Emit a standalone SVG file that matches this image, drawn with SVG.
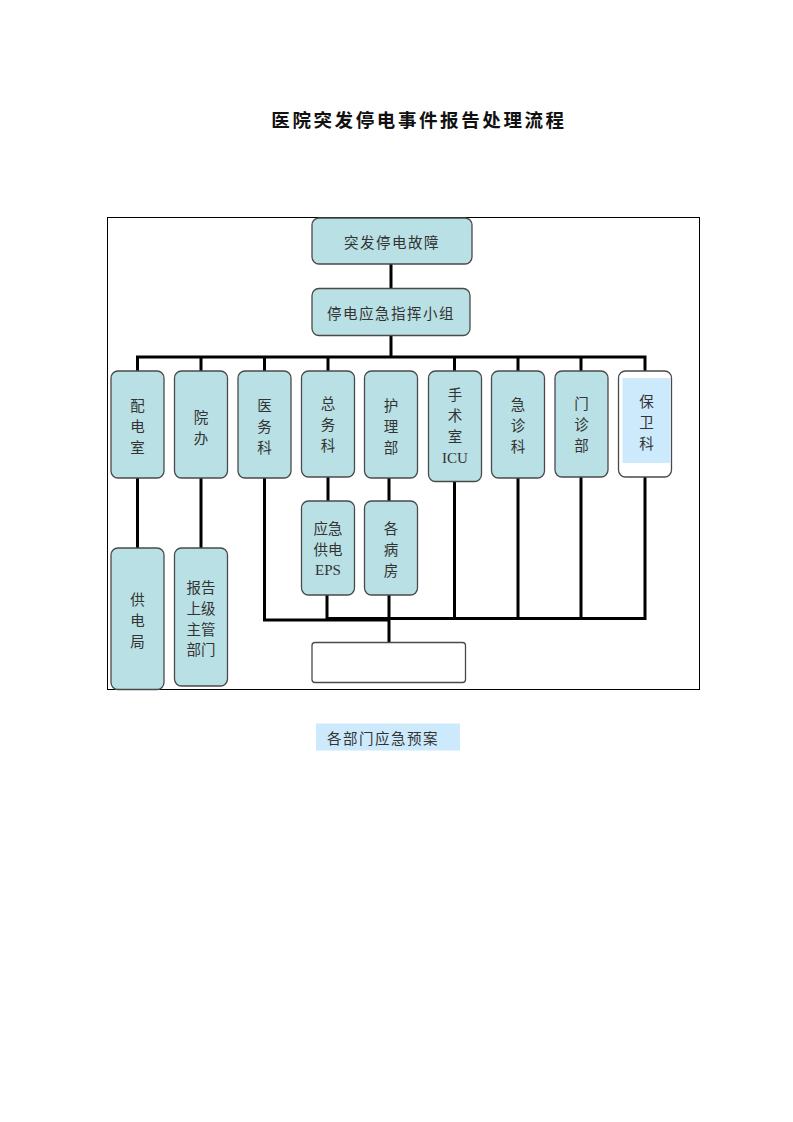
<svg xmlns="http://www.w3.org/2000/svg" width="793" height="1122" viewBox="0 0 793 1122">
<style>
.box{fill:#b9e0e4;stroke:#4a4a4a;stroke-width:1.3}
.wbox{fill:#ffffff;stroke:#4a4a4a;stroke-width:1.3}
.t{font-family:"Noto Sans CJK SC","Liberation Serif",sans-serif;font-size:14.5px;fill:#333;text-anchor:middle;dominant-baseline:central}
.e{font-family:"Liberation Serif",serif;font-size:15px;fill:#333;text-anchor:middle;dominant-baseline:central}
.c{fill:none;stroke:#000;stroke-width:3}
</style>
<rect width="793" height="1122" fill="#ffffff"/>
<text x="419" y="119" font-family="'Noto Sans CJK SC',sans-serif" font-size="18.5" font-weight="bold" letter-spacing="2.6" text-anchor="middle" dominant-baseline="central" fill="#111">医院突发停电事件报告处理流程</text>
<rect x="107.5" y="217.5" width="592" height="472" fill="none" stroke="#000" stroke-width="1"/>
<g id="connectors">
<path class="c" d="M391 264V288"/>
<path class="c" d="M391 335V357"/>
<path class="c" d="M137.5 371V357H645V371"/>
<path class="c" d="M201 357V371M264.5 357V371M328 357V371M454.5 357V371M518 357V371M581 357V371"/>
<path class="c" d="M137.5 478V548"/>
<path class="c" d="M201 478V548"/>
<path class="c" d="M328 477V501"/>
<path class="c" d="M389 478V501"/>
<path class="c" d="M264.5 478V620H389"/>
<path class="c" d="M327 595V618.5H645V477"/>
<path class="c" d="M454.5 481V618.5M518 478V618.5M581 477V618.5"/>
<path class="c" d="M389 595V642"/>
</g>
<g id="n1"><rect class="box" x="312" y="218" width="160" height="46" rx="7"/><text class="t" x="392" y="241.5" letter-spacing="1.5">突发停电故障</text></g>
<g id="n2"><rect class="box" x="312" y="288.5" width="158" height="47" rx="7"/><text class="t" x="391" y="312.5" letter-spacing="1.5">停电应急指挥小组</text></g>
<g id="n3"><rect class="box" x="111" y="371" width="53" height="107" rx="7"/><text class="t" x="137.5" y="404">配</text><text class="t" x="137.5" y="425">电</text><text class="t" x="137.5" y="446">室</text></g>
<g id="n4"><rect class="box" x="174.5" y="371" width="53" height="107" rx="7"/><text class="t" x="201" y="416">院</text><text class="t" x="201" y="437">办</text></g>
<g id="n5"><rect class="box" x="238" y="371" width="53" height="107" rx="7"/><text class="t" x="264.5" y="404">医</text><text class="t" x="264.5" y="425">务</text><text class="t" x="264.5" y="446">科</text></g>
<g id="n6"><rect class="box" x="301.5" y="371" width="53" height="106" rx="7"/><text class="t" x="328" y="402.5">总</text><text class="t" x="328" y="423.5">务</text><text class="t" x="328" y="444.5">科</text></g>
<g id="n7"><rect class="box" x="364.5" y="371" width="53" height="107" rx="7"/><text class="t" x="391" y="404">护</text><text class="t" x="391" y="425">理</text><text class="t" x="391" y="446">部</text></g>
<g id="n8"><rect class="box" x="428.5" y="371" width="53" height="110.5" rx="7"/><text class="t" x="455" y="393">手</text><text class="t" x="455" y="414">术</text><text class="t" x="455" y="435">室</text><text class="e" x="455" y="458">ICU</text></g>
<g id="n9"><rect class="box" x="491.5" y="371" width="53" height="107" rx="7"/><text class="t" x="518" y="403.5">急</text><text class="t" x="518" y="424.5">诊</text><text class="t" x="518" y="445.5">科</text></g>
<g id="n10"><rect class="box" x="555" y="371" width="53" height="106" rx="7"/><text class="t" x="581.5" y="402">门</text><text class="t" x="581.5" y="423">诊</text><text class="t" x="581.5" y="444">部</text></g>
<g id="n11"><rect class="wbox" x="618.5" y="371" width="53" height="106" rx="7"/><rect x="622.5" y="378" width="48" height="85" fill="#cdeafd"/><text class="t" x="646.5" y="400">保</text><text class="t" x="646.5" y="421">卫</text><text class="t" x="646.5" y="442">科</text></g>
<g id="n12"><rect class="box" x="111" y="548" width="53" height="141.5" rx="7"/><text class="t" x="137.5" y="598">供</text><text class="t" x="137.5" y="619">电</text><text class="t" x="137.5" y="640">局</text></g>
<g id="n13"><rect class="box" x="174.5" y="548" width="53" height="138" rx="7"/><text class="t" x="201" y="586">报告</text><text class="t" x="201" y="607">上级</text><text class="t" x="201" y="628">主管</text><text class="t" x="201" y="648">部门</text></g>
<g id="n14"><rect class="box" x="301.5" y="501" width="53" height="94" rx="7"/><text class="t" x="328" y="527.5">应急</text><text class="t" x="328" y="548.5">供电</text><text class="e" x="328" y="569.5">EPS</text></g>
<g id="n15"><rect class="box" x="364.5" y="501" width="53" height="94" rx="7"/><text class="t" x="391" y="527.5">各</text><text class="t" x="391" y="548.5">病</text><text class="t" x="391" y="569.5">房</text></g>
<g id="n16"><rect class="wbox" x="312" y="642.5" width="153.5" height="40" rx="3"/></g>
<g id="caption"><rect x="316" y="723.5" width="144" height="27" fill="#cdeafd"/><text class="t" x="383" y="737.5" letter-spacing="1.5">各部门应急预案</text></g>
</svg>
